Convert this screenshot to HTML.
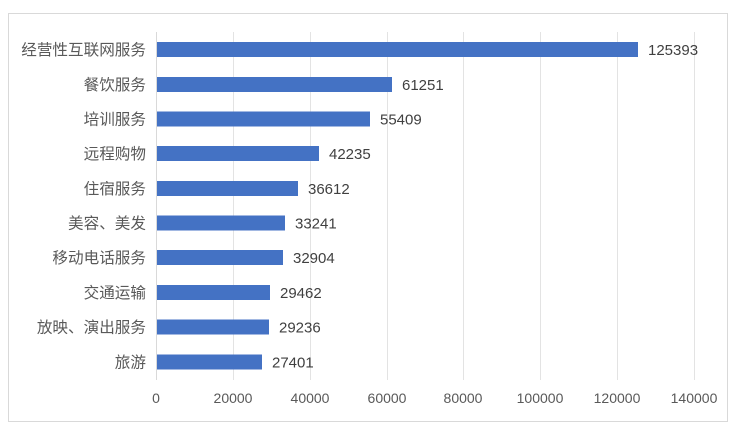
<!DOCTYPE html>
<html><head><meta charset="utf-8"><style>
body{margin:0;background:#fff;}
svg{display:block;font-family:"Liberation Sans","Noto Sans CJK SC",sans-serif;}
</style></head><body>
<svg width="738" height="432" xmlns="http://www.w3.org/2000/svg">
<rect x="0" y="0" width="738" height="432" fill="#fff"/>
<rect x="8.5" y="13.5" width="719" height="408" fill="#fff" stroke="#d9d9d9"/>
<g stroke="#e3e3e3" stroke-width="1">
<line x1="233.5" y1="32" x2="233.5" y2="380"/>
<line x1="310.5" y1="32" x2="310.5" y2="380"/>
<line x1="387.5" y1="32" x2="387.5" y2="380"/>
<line x1="463.5" y1="32" x2="463.5" y2="380"/>
<line x1="540.5" y1="32" x2="540.5" y2="380"/>
<line x1="617.5" y1="32" x2="617.5" y2="380"/>
<line x1="694.5" y1="32" x2="694.5" y2="380"/>
</g>
<line x1="156.5" y1="32" x2="156.5" y2="380" stroke="#d9d9d9"/>
<g fill="#4472c4">
<rect x="157" y="42" width="481" height="15"/>
<rect x="157" y="77" width="235" height="15"/>
<rect x="157" y="111.5" width="213" height="15"/>
<rect x="157" y="146" width="162" height="15"/>
<rect x="157" y="181" width="141" height="15"/>
<rect x="157" y="215.5" width="128" height="15"/>
<rect x="157" y="250" width="126" height="15"/>
<rect x="157" y="285" width="113" height="15"/>
<rect x="157" y="319.5" width="112" height="15"/>
<rect x="157" y="354.5" width="105" height="15"/>
</g>
<g font-size="15.6" fill="#595959" text-anchor="end">
<text x="146" y="55">经营性互联网服务</text>
<text x="146" y="90">餐饮服务</text>
<text x="146" y="124.5">培训服务</text>
<text x="146" y="159">远程购物</text>
<text x="146" y="194">住宿服务</text>
<text x="146" y="228.5">美容、美发</text>
<text x="146" y="263">移动电话服务</text>
<text x="146" y="298">交通运输</text>
<text x="146" y="332.5">放映、演出服务</text>
<text x="146" y="367.5">旅游</text>
</g>
<g font-size="15" fill="#404040">
<text x="648" y="55">125393</text>
<text x="402" y="90">61251</text>
<text x="380" y="124.5">55409</text>
<text x="329" y="159">42235</text>
<text x="308" y="194">36612</text>
<text x="295" y="228.5">33241</text>
<text x="293" y="263">32904</text>
<text x="280" y="298">29462</text>
<text x="279" y="332.5">29236</text>
<text x="272" y="367.5">27401</text>
</g>
<g font-size="14" fill="#595959" text-anchor="middle">
<text x="156" y="403">0</text>
<text x="233" y="403">20000</text>
<text x="310" y="403">40000</text>
<text x="387" y="403">60000</text>
<text x="463" y="403">80000</text>
<text x="540" y="403">100000</text>
<text x="617" y="403">120000</text>
<text x="694" y="403">140000</text>
</g>
</svg>
</body></html>
